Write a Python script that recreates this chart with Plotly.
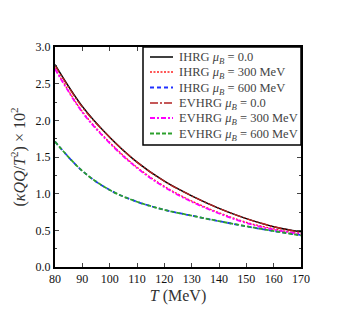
import plotly.graph_objects as go

T = [80, 90, 100, 110, 120, 130, 140, 150, 160, 170]
ihrg_0 = [2.76, 2.19, 1.77, 1.43, 1.17, 0.97, 0.80, 0.66, 0.55, 0.48]
ihrg_300 = [2.71, 2.12, 1.70, 1.36, 1.10, 0.90, 0.74, 0.61, 0.52, 0.45]
ihrg_600 = [1.71, 1.31, 1.05, 0.89, 0.78, 0.70, 0.625, 0.555, 0.49, 0.435]
evhrg_0 = [2.75, 2.18, 1.77, 1.43, 1.17, 0.97, 0.80, 0.66, 0.55, 0.47]
evhrg_300 = [2.70, 2.11, 1.69, 1.35, 1.09, 0.89, 0.73, 0.60, 0.51, 0.45]
evhrg_600 = [1.71, 1.31, 1.05, 0.89, 0.78, 0.70, 0.625, 0.555, 0.49, 0.43]

names = ["IHRG <i>μ<sub>B</sub></i> = 0.0", "IHRG <i>μ<sub>B</sub></i> = 300 MeV",
         "IHRG <i>μ<sub>B</sub></i> = 600 MeV", "EVHRG <i>μ<sub>B</sub></i> = 0.0",
         "EVHRG <i>μ<sub>B</sub></i> = 300 MeV", "EVHRG <i>μ<sub>B</sub></i> = 600 MeV"]
series = [ihrg_0, ihrg_300, ihrg_600, evhrg_0, evhrg_300, evhrg_600]
colors = ["#000000", "#ff2020", "#2030ff", "#b22222", "#ff00ff", "#2ca02c"]
dashes = ["solid", "2px,1.5px", "4px,3px", "8px,2px,2px,2px", "5px,2px,2px,2px", "4px,2px"]
widths = [1.5, 1.3, 1.8, 1.4, 1.8, 1.8]

OFF = 8  # page body margin
W, H = 356, 317
L, R, TOP, B = 55 - OFF, 63, 47 - OFF, 58
pw, ph = W - L - R, H - TOP - B

def px(xp):
    return (xp - OFF - L) / pw

def py(yp):
    return (H - B - (yp - OFF)) / ph

fig = go.Figure()
for n, s, c, d, w in zip(names, series, colors, dashes, widths):
    fig.add_trace(go.Scatter(x=T, y=s, mode="lines", name=n, showlegend=False,
                             line=dict(color=c, dash=d, width=w, shape="spline")))

font = "Liberation Serif, DejaVu Serif, serif"

# manual legend (box + sample lines + text)
shapes = [dict(type="rect", xref="paper", yref="paper", x0=px(143), x1=px(301), y0=py(145), y1=py(47),
               line=dict(color="black", width=1.5), fillcolor="white", layer="above")]
annotations = []
row_y = [58, 73, 88.5, 104, 119, 134.5]
for i, (n, c, d, w) in enumerate(zip(names, colors, dashes, widths)):
    yy = py(row_y[i] - 1)
    shapes.append(dict(type="line", xref="paper", yref="paper", x0=px(150), x1=px(173), y0=yy, y1=yy,
                       line=dict(color=c, dash=d, width=w), layer="above"))
    annotations.append(dict(xref="paper", yref="paper", x=px(177), y=py(row_y[i]), text=n, showarrow=False,
                            xanchor="left", yanchor="middle", font=dict(size=12.5, color="#444", family=font)))

fig.update_layout(
    width=W, height=H,
    margin=dict(l=L, r=R, t=TOP, b=B, autoexpand=False),
    paper_bgcolor="white", plot_bgcolor="white",
    font=dict(family=font, size=11, color="#111"),
    showlegend=False,
    shapes=shapes, annotations=annotations,
)
fig.update_xaxes(range=[80, 170], tickvals=list(range(80, 171, 10)), ticks="inside", ticklen=4,
                 showline=True, linecolor="black", linewidth=2, mirror="ticks", showgrid=False,
                 zeroline=False, automargin=False,
                 title=dict(text="<i>T</i> (MeV)", font=dict(size=16, color="#333"), standoff=4),
                 tickfont=dict(size=12))
fig.update_yaxes(range=[0, 3.0], tickvals=[0, 0.5, 1.0, 1.5, 2.0, 2.5, 3.0],
                 ticktext=["0.0", "0.5", "1.0", "1.5", "2.0", "2.5", "3.0"], ticks="inside", ticklen=4,
                 minor=dict(dtick=0.25, ticks="inside", ticklen=2, showgrid=False),
                 showline=True, linecolor="black", linewidth=2, mirror="ticks", showgrid=False,
                 zeroline=False, automargin=False,
                 title=dict(text="(<i>κQQ</i>/<i>T</i><sup>2</sup>) × 10<sup>2</sup>", font=dict(size=16, color="#333"),
                            standoff=8),
                 tickfont=dict(size=12))

fig.write_html("out.html")
